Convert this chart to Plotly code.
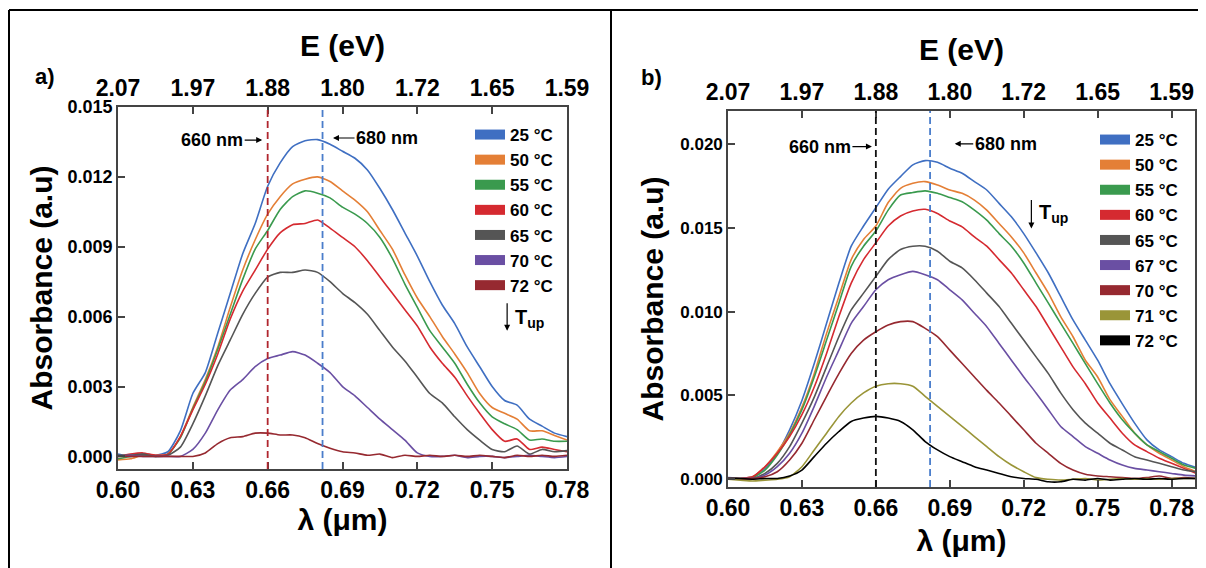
import plotly.graph_objects as go

# ---------------- data ----------------
wl_a = [0.600, 0.605, 0.610, 0.615, 0.620, 0.625, 0.630, 0.635, 0.640, 0.645,
        0.650, 0.655, 0.660, 0.665, 0.670, 0.675, 0.680, 0.685, 0.690, 0.695,
        0.700, 0.705, 0.710, 0.715, 0.720, 0.725, 0.730, 0.735, 0.740, 0.745,
        0.750, 0.755, 0.760, 0.765, 0.770, 0.775, 0.780]

a_25 = [0.00010, 0.00000, 0.00010, 0.00005, 0.00020, 0.00110, 0.00270, 0.00360, 0.00530, 0.00700,
        0.00870, 0.01000, 0.01160, 0.01260, 0.01330, 0.01355, 0.01360, 0.01340, 0.01310, 0.01280,
        0.01230, 0.01150, 0.01060, 0.00960, 0.00860, 0.00750, 0.00650, 0.00570, 0.00470, 0.00385,
        0.00300, 0.00240, 0.00220, 0.00160, 0.00130, 0.00100, 0.00085]
a_50 = [-0.00015, -0.00010, 0.00005, 0.00005, 0.00010, 0.00085, 0.00210, 0.00330, 0.00470, 0.00640,
        0.00800, 0.00930, 0.01040, 0.01115, 0.01170, 0.01190, 0.01200, 0.01180, 0.01140, 0.01100,
        0.01050, 0.00970, 0.00890, 0.00780, 0.00680, 0.00600, 0.00515, 0.00440, 0.00360, 0.00270,
        0.00210, 0.00185, 0.00160, 0.00110, 0.00110, 0.00090, 0.00070]
a_55 = [-0.00010, 0.00000, 0.00005, 0.00000, 0.00010, 0.00080, 0.00205, 0.00320, 0.00460, 0.00610,
        0.00760, 0.00890, 0.00970, 0.01060, 0.01115, 0.01140, 0.01130, 0.01110, 0.01070, 0.01040,
        0.01000, 0.00940, 0.00850, 0.00740, 0.00640, 0.00540, 0.00470, 0.00400, 0.00310, 0.00230,
        0.00170, 0.00140, 0.00115, 0.00070, 0.00075, 0.00065, 0.00065]
a_60 = [0.00000, 0.00010, 0.00015, 0.00005, 0.00010, 0.00085, 0.00200, 0.00310, 0.00440, 0.00590,
        0.00710, 0.00800, 0.00890, 0.00960, 0.00995, 0.01000, 0.01015, 0.00980, 0.00940, 0.00900,
        0.00840, 0.00770, 0.00700, 0.00630, 0.00560, 0.00470, 0.00400, 0.00340, 0.00260, 0.00185,
        0.00115, 0.00065, 0.00075, 0.00030, 0.00040, 0.00030, 0.00020]
a_65 = [0.00005, 0.00005, 0.00010, 0.00000, 0.00005, 0.00040, 0.00140, 0.00260, 0.00390, 0.00500,
        0.00610, 0.00700, 0.00770, 0.00790, 0.00790, 0.00800, 0.00790, 0.00750, 0.00700, 0.00660,
        0.00610, 0.00540, 0.00470, 0.00410, 0.00340, 0.00270, 0.00230, 0.00170, 0.00115, 0.00070,
        0.00030, 0.00020, 0.00045, 0.00010, 0.00030, 0.00020, 0.00025]
a_70 = [0.00000, 0.00005, 0.00000, 0.00000, 0.00000, 0.00000, 0.00030, 0.00100, 0.00200, 0.00285,
        0.00330, 0.00385, 0.00420, 0.00435, 0.00450, 0.00435, 0.00400, 0.00360, 0.00300, 0.00260,
        0.00210, 0.00160, 0.00115, 0.00070, 0.00015, 0.00000, 0.00000, 0.00005, -0.00005, 0.00000,
        0.00000, -0.00005, 0.00000, 0.00005, 0.00000, -0.00005, 0.00000]
a_72 = [0.00000, 0.00000, 0.00000, 0.00000, 0.00000, 0.00000, 0.00000, 0.00015, 0.00055, 0.00080,
        0.00085, 0.00100, 0.00100, 0.00092, 0.00092, 0.00080, 0.00055, 0.00035, 0.00020, 0.00015,
        0.00005, 0.00010, -0.00005, 0.00005, 0.00000, 0.00005, 0.00000, 0.00005, 0.00000, 0.00005,
        0.00000, -0.00005, 0.00005, 0.00000, 0.00005, 0.00000, 0.00005]

wl_b = [0.600, 0.605, 0.610, 0.615, 0.620, 0.625, 0.630, 0.635, 0.640, 0.645,
        0.650, 0.655, 0.660, 0.665, 0.670, 0.675, 0.680, 0.685, 0.690, 0.695,
        0.700, 0.705, 0.710, 0.715, 0.720, 0.725, 0.730, 0.735, 0.740, 0.745,
        0.750, 0.755, 0.760, 0.765, 0.770, 0.775, 0.780, 0.785, 0.790]

b_25 = [0.00010, 0.00005, 0.00015, 0.00065, 0.00155, 0.00295, 0.00470, 0.00690, 0.00930, 0.01170,
        0.01390, 0.01510, 0.01620, 0.01730, 0.01805, 0.01875, 0.01900, 0.01890, 0.01855, 0.01825,
        0.01775, 0.01725, 0.01645, 0.01565, 0.01465, 0.01350, 0.01230, 0.01090, 0.00950, 0.00830,
        0.00710, 0.00570, 0.00450, 0.00335, 0.00235, 0.00175, 0.00135, 0.00095, 0.00070]
b_50 = [0.00005, 0.00005, 0.00015, 0.00075, 0.00165, 0.00275, 0.00430, 0.00630, 0.00870, 0.01090,
        0.01310, 0.01430, 0.01510, 0.01650, 0.01735, 0.01765, 0.01775, 0.01755, 0.01725, 0.01705,
        0.01665, 0.01605, 0.01525, 0.01445, 0.01350, 0.01230, 0.01110, 0.00970, 0.00850, 0.00710,
        0.00610, 0.00475, 0.00375, 0.00275, 0.00205, 0.00155, 0.00115, 0.00075, 0.00045]
b_55 = [0.00005, 0.00000, 0.00010, 0.00055, 0.00145, 0.00265, 0.00415, 0.00610, 0.00830, 0.01050,
        0.01270, 0.01390, 0.01480, 0.01605, 0.01695, 0.01710, 0.01720, 0.01705, 0.01680, 0.01655,
        0.01605, 0.01545, 0.01465, 0.01390, 0.01290, 0.01170, 0.01050, 0.00930, 0.00810, 0.00690,
        0.00570, 0.00455, 0.00355, 0.00275, 0.00205, 0.00165, 0.00125, 0.00085, 0.00065]
b_60 = [0.00005, 0.00005, 0.00015, 0.00075, 0.00155, 0.00255, 0.00385, 0.00550, 0.00750, 0.00970,
        0.01170, 0.01310, 0.01410, 0.01510, 0.01570, 0.01600, 0.01610, 0.01585, 0.01540, 0.01505,
        0.01445, 0.01390, 0.01310, 0.01230, 0.01130, 0.01030, 0.00910, 0.00790, 0.00670, 0.00570,
        0.00455, 0.00365, 0.00275, 0.00205, 0.00165, 0.00125, 0.00095, 0.00065, 0.00035]
b_65 = [0.00005, 0.00005, 0.00005, 0.00035, 0.00095, 0.00195, 0.00335, 0.00490, 0.00670, 0.00850,
        0.01010, 0.01110, 0.01210, 0.01310, 0.01370, 0.01390, 0.01390, 0.01360, 0.01300, 0.01260,
        0.01190, 0.01110, 0.01030, 0.00930, 0.00830, 0.00730, 0.00630, 0.00515, 0.00415, 0.00335,
        0.00275, 0.00215, 0.00175, 0.00135, 0.00115, 0.00095, 0.00075, 0.00055, 0.00045]
b_67 = [0.00000, 0.00005, 0.00005, 0.00025, 0.00075, 0.00155, 0.00275, 0.00435, 0.00610, 0.00770,
        0.00930, 0.01030, 0.01130, 0.01190, 0.01220, 0.01240, 0.01220, 0.01190, 0.01130, 0.01070,
        0.00990, 0.00910, 0.00810, 0.00710, 0.00610, 0.00515, 0.00415, 0.00315, 0.00255, 0.00195,
        0.00155, 0.00115, 0.00085, 0.00065, 0.00055, 0.00045, 0.00035, 0.00025, 0.00020]
b_70 = [0.00005, 0.00000, 0.00005, 0.00015, 0.00045, 0.00115, 0.00215, 0.00355, 0.00495, 0.00630,
        0.00750, 0.00830, 0.00880, 0.00920, 0.00940, 0.00940, 0.00900, 0.00850, 0.00770, 0.00690,
        0.00610, 0.00530, 0.00455, 0.00375, 0.00295, 0.00215, 0.00155, 0.00095, 0.00055, 0.00030,
        0.00020, 0.00015, 0.00010, 0.00005, 0.00010, 0.00020, 0.00005, 0.00010, 0.00005]
b_71 = [0.00000, -0.00005, -0.00010, -0.00005, 0.00000, 0.00015, 0.00075, 0.00175, 0.00275, 0.00375,
        0.00455, 0.00515, 0.00555, 0.00570, 0.00570, 0.00555, 0.00495, 0.00435, 0.00375, 0.00315,
        0.00255, 0.00195, 0.00135, 0.00085, 0.00045, 0.00010, 0.00000, -0.00005, 0.00000, 0.00005,
        -0.00005, 0.00000, 0.00005, 0.00000, 0.00005, 0.00000, 0.00005, 0.00005, 0.00005]
b_72 = [0.00005, 0.00005, 0.00000, 0.00005, 0.00005, 0.00020, 0.00055, 0.00135, 0.00215, 0.00285,
        0.00345, 0.00365, 0.00375, 0.00365, 0.00345, 0.00295, 0.00225, 0.00175, 0.00135, 0.00105,
        0.00075, 0.00055, 0.00035, 0.00015, 0.00005, 0.00000, -0.00015, -0.00015, 0.00000, -0.00005,
        0.00005, -0.00005, 0.00000, 0.00005, 0.00000, 0.00005, 0.00000, 0.00005, 0.00005]

series_a = [("25 °C", a_25), ("50 °C", a_50), ("55 °C", a_55), ("60 °C", a_60),
            ("65 °C", a_65), ("70 °C", a_70), ("72 °C", a_72)]
colors_a = ["#3F6FC2", "#E47F36", "#3A9A4E", "#D52A30", "#555555", "#6A4FA3", "#962930"]

series_b = [("25 °C", b_25), ("50 °C", b_50), ("55 °C", b_55), ("60 °C", b_60),
            ("65 °C", b_65), ("67 °C", b_67), ("70 °C", b_70), ("71 °C", b_71), ("72 °C", b_72)]
colors_b = ["#3F6FC2", "#E47F36", "#3A9A4E", "#D52A30", "#555555", "#6A4FA3", "#962930",
            "#9A9538", "#000000"]

x_tickvals = [0.60, 0.63, 0.66, 0.69, 0.72, 0.75, 0.78]
x_ticktext = ["0.60", "0.63", "0.66", "0.69", "0.72", "0.75", "0.78"]
e_ticktext = ["2.07", "1.97", "1.88", "1.80", "1.72", "1.65", "1.59"]
ya_tickvals = [0.000, 0.003, 0.006, 0.009, 0.012, 0.015]
ya_ticktext = ["0.000", "0.003", "0.006", "0.009", "0.012", "0.015"]
yb_tickvals = [0.000, 0.005, 0.010, 0.015, 0.020]
yb_ticktext = ["0.000", "0.005", "0.010", "0.015", "0.020"]

marker_660 = 0.660
marker_680 = 0.682

FONT = "Liberation Sans, Arial, Helvetica, sans-serif"
# the page adds an 8 px body margin, so the figure is drawn 8 px smaller and
# positions measured on the 1206x568 reference are shifted by that margin
PAGE = 8
W, H = 1206 - PAGE, 568 - PAGE


def px(x):
    return (x - PAGE) / W


def py(y):
    return 1 - (y - PAGE) / H


fig = go.Figure()

# panel a curves
for (name, vals), c in zip(series_a, colors_a):
    fig.add_trace(go.Scatter(x=wl_a, y=vals, mode="lines", name=name, showlegend=False,
                             line=dict(color=c, width=1.6, shape="spline", smoothing=0.6),
                             xaxis="x", yaxis="y"))
for (name, vals), c in zip(series_a, colors_a):
    fig.add_trace(go.Scatter(x=[None], y=[None], mode="lines", name=name, legend="legend",
                             line=dict(color=c, width=11), xaxis="x", yaxis="y"))
# panel b curves
for (name, vals), c in zip(series_b, colors_b):
    fig.add_trace(go.Scatter(x=wl_b, y=vals, mode="lines", name=name, showlegend=False,
                             line=dict(color=c, width=1.6, shape="spline", smoothing=0.6),
                             xaxis="x2", yaxis="y2"))
for (name, vals), c in zip(series_b, colors_b):
    fig.add_trace(go.Scatter(x=[None], y=[None], mode="lines", name=name, legend="legend2",
                             line=dict(color=c, width=11), xaxis="x2", yaxis="y2"))
# invisible traces to carry the top (energy) axes
fig.add_trace(go.Scatter(x=[0.6], y=[0], mode="markers", opacity=0, showlegend=False,
                         hoverinfo="skip", xaxis="x3", yaxis="y"))
fig.add_trace(go.Scatter(x=[0.6], y=[0], mode="markers", opacity=0, showlegend=False,
                         hoverinfo="skip", xaxis="x4", yaxis="y2"))

AX_COLOR = "#444444"
tickfont_x = dict(family=FONT, size=23, color="black", weight="bold")
titlefont = dict(family=FONT, size=30, color="black", weight="bold")


def xbase(domain, rng, title, standoff):
    return dict(domain=domain, range=rng, tickmode="array", tickvals=x_tickvals,
                ticktext=x_ticktext, ticks="inside", ticklen=7, tickwidth=1.5,
                tickcolor=AX_COLOR, showline=True, linecolor=AX_COLOR, linewidth=1.6,
                mirror=True, showgrid=False, zeroline=False, tickfont=tickfont_x,
                automargin=False,
                title=dict(text=title, font=titlefont, standoff=standoff))


def xtop(overlay, anchor, rng, standoff):
    return dict(overlaying=overlay, anchor=anchor, side="top", range=rng, tickmode="array",
                tickvals=x_tickvals, ticktext=e_ticktext, ticks="inside", ticklen=7,
                tickwidth=1.5, tickcolor=AX_COLOR, showline=True, linecolor=AX_COLOR,
                linewidth=1.6, showgrid=False, zeroline=False, tickfont=tickfont_x,
                automargin=False,
                title=dict(text="E (eV)", font=titlefont, standoff=standoff))


def ybase(domain, rng, tv, tt, size, standoff):
    return dict(domain=domain, range=rng, tickmode="array", tickvals=tv, ticktext=tt,
                ticks="inside", ticklen=7, tickwidth=1.5, tickcolor=AX_COLOR, showline=True,
                linecolor=AX_COLOR, linewidth=1.6, mirror=True, showgrid=False,
                zeroline=False, automargin=False,
                tickfont=dict(family=FONT, size=size, color="black", weight="bold"),
                title=dict(text="Absorbance (a.u)", font=titlefont, standoff=standoff))


xa_dom = [px(118), px(567)]
ya_dom = [py(469), py(107)]
xb_dom = [px(728), px(1195)]
yb_dom = [py(487), py(111)]
xa_rng = [0.60, 0.78]
xb_rng = [0.60, 0.7895]

legend_font = dict(family=FONT, size=17, color="black", weight="bold")

fig.update_layout(
    width=W, height=H,
    margin=dict(l=0, r=0, t=0, b=0, autoexpand=False),
    paper_bgcolor="white", plot_bgcolor="white",
    font=dict(family=FONT, color="black"),
    xaxis=dict(**xbase(xa_dom, xa_rng, "λ (μm)", 6), anchor="y"),
    yaxis=dict(**ybase(ya_dom, [-0.00054, 0.015], ya_tickvals, ya_ticktext, 18, 6), anchor="x"),
    xaxis3=xtop("x", "y", xa_rng, 10),
    xaxis2=dict(**xbase(xb_dom, xb_rng, "λ (μm)", 10), anchor="y2"),
    yaxis2=dict(**ybase(yb_dom, [-0.00046, 0.02196], yb_tickvals, yb_ticktext, 17, 8), anchor="x2"),
    xaxis4=xtop("x2", "y2", xb_rng, 10),
    legend=dict(x=px(470), y=py(117), xanchor="left", yanchor="top",
                bgcolor="rgba(0,0,0,0)", font=legend_font, tracegroupgap=0,
                itemwidth=30),
    legend2=dict(x=px(1095), y=py(122), xanchor="left", yanchor="top",
                 bgcolor="rgba(0,0,0,0)", font=legend_font, tracegroupgap=0,
                 itemwidth=30),
)

DASH = "7px,4px"
# dashed marker lines
shapes = [
    dict(type="line", xref="x", yref="y domain", x0=marker_660, x1=marker_660, y0=0, y1=1,
         line=dict(color="#B0262E", width=1.8, dash=DASH)),
    dict(type="line", xref="x", yref="y domain", x0=marker_680, x1=marker_680, y0=0, y1=1,
         line=dict(color="#4A7DCB", width=1.8, dash=DASH)),
    dict(type="line", xref="x2", yref="y2 domain", x0=marker_660, x1=marker_660, y0=0, y1=1,
         line=dict(color="#111111", width=1.8, dash=DASH)),
    dict(type="line", xref="x2", yref="y2 domain", x0=marker_680, x1=marker_680, y0=0, y1=1,
         line=dict(color="#4A7DCB", width=1.8, dash=DASH)),
    # panel frames
    dict(type="line", xref="paper", yref="paper", x0=px(9), x1=px(9), y0=0, y1=py(10),
         line=dict(color="black", width=2)),
    dict(type="line", xref="paper", yref="paper", x0=px(9), x1=1, y0=py(10), y1=py(10),
         line=dict(color="black", width=2)),
    dict(type="line", xref="paper", yref="paper", x0=px(611), x1=px(611), y0=0, y1=py(10),
         line=dict(color="black", width=2)),
]
fig.update_layout(shapes=shapes)

ann_font = dict(family=FONT, size=18, color="black", weight="bold")
annotations = [
    dict(text="a)", xref="paper", yref="paper", x=px(45), y=py(76), xanchor="center",
         yanchor="middle", showarrow=False,
         font=dict(family=FONT, size=22, color="black", weight="bold")),
    dict(text="b)", xref="paper", yref="paper", x=px(651), y=py(77), xanchor="center",
         yanchor="middle", showarrow=False,
         font=dict(family=FONT, size=22, color="black", weight="bold")),
    # panel a wavelength markers
    dict(text="660 nm", xref="x", yref="y", x=0.6578, y=0.01358, ax=-50, ay=0,
         showarrow=True, arrowhead=2, arrowsize=1, arrowwidth=1.2, arrowcolor="black",
         font=ann_font),
    dict(text="680 nm", xref="x", yref="y", x=0.6862, y=0.01367, ax=54, ay=0,
         showarrow=True, arrowhead=2, arrowsize=1, arrowwidth=1.2, arrowcolor="black",
         font=ann_font),
    # panel b wavelength markers
    dict(text="660 nm", xref="x2", yref="y2", x=0.6584, y=0.01984, ax=-52, ay=0,
         showarrow=True, arrowhead=2, arrowsize=1, arrowwidth=1.2, arrowcolor="black",
         font=ann_font),
    dict(text="680 nm", xref="x2", yref="y2", x=0.6920, y=0.02000, ax=51, ay=0,
         showarrow=True, arrowhead=2, arrowsize=1, arrowwidth=1.2, arrowcolor="black",
         font=ann_font),
    # T_up arrows
    dict(text="", xref="x", yref="y", x=0.7560, y=0.00539, ax=0, ay=-29,
         showarrow=True, arrowhead=2, arrowsize=1, arrowwidth=1.2, arrowcolor="black"),
    dict(text="T<sub>up</sub>", xref="x", yref="y", x=0.7584, y=0.00594, xanchor="left",
         showarrow=False, font=dict(family=FONT, size=20, color="black", weight="bold")),
    dict(text="", xref="x2", yref="y2", x=0.7231, y=0.01496, ax=0, ay=-30,
         showarrow=True, arrowhead=2, arrowsize=1, arrowwidth=1.2, arrowcolor="black"),
    dict(text="T<sub>up</sub>", xref="x2", yref="y2", x=0.7255, y=0.01585, xanchor="left",
         showarrow=False, font=dict(family=FONT, size=20, color="black", weight="bold")),
]
fig.update_layout(annotations=annotations)

fig.write_html("out.html")
